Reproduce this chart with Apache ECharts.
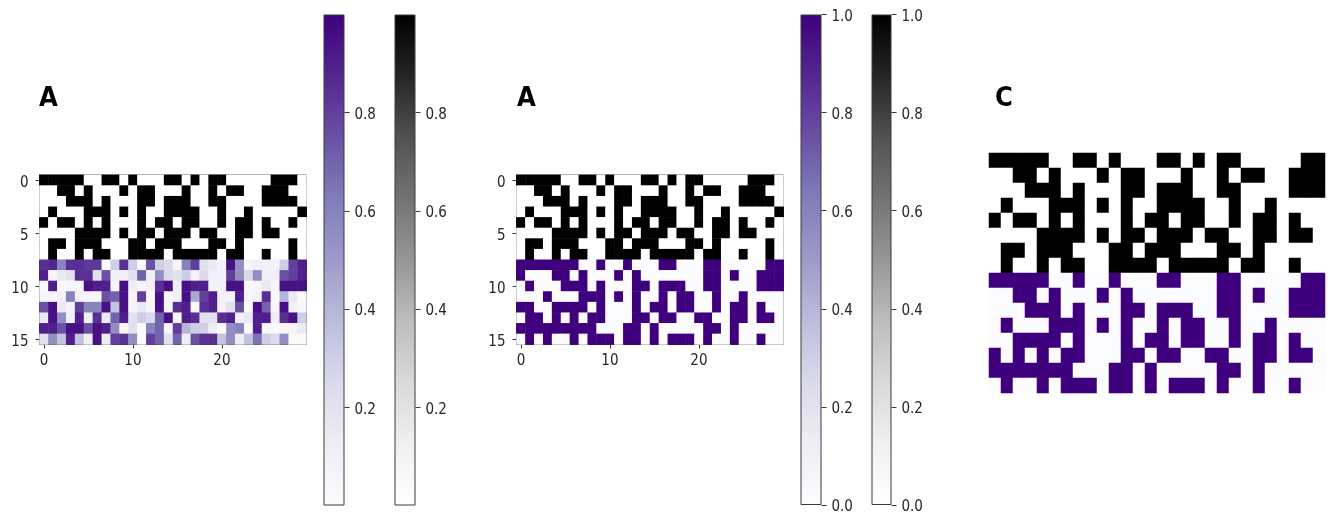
<!DOCTYPE html>
<html><head><meta charset="utf-8">
<script src="https://cdn.jsdelivr.net/npm/echarts@6/dist/echarts.min.js"></script>
<style>html,body{margin:0;padding:0;background:#fff}#c{width:1328px;height:515px}</style>
</head><body><div id="c"></div>
<script>
const rowLabels = ['0','1','2','3','4','5','6','7','8','9','10','11','12','13','14','15'];
const colLabels = ['0','1','2','3','4','5','6','7','8','9','10','11','12','13','14','15','16','17','18','19','20','21','22','23','24','25','26','27','28','29'];
const panelTitles = ['A','A','C'];
const ticksPartial = [0.2,0.4,0.6,0.8];
const ticksFull = [0,0.2,0.4,0.6,0.8,1];

// Black cells, rows 0-7 (column indices that are 1)
const blackOn = [
 [0,1,2,3,4,7,8,10,14,15,17,19,20,26,27,28],
 [2,3,5,9,11,12,16,19,21,22,25,26,27],
 [3,4,5,7,11,12,14,15,16,19,20,25,26,27,28],
 [1,5,6,7,9,11,14,15,16,17,20,23,29],
 [0,2,3,5,7,11,13,14,16,17,20,22,23,25,28],
 [4,5,6,7,9,11,12,14,15,16,18,19,22,23,25,26],
 [1,2,4,5,6,10,11,13,14,15,19,20,22,28],
 [1,4,6,7,10,11,12,13,15,16,17,18,19,21,22,25,28]
];
// Panel A, rows 8-15: continuous values
const purpleA = [
 [.85,.88,.6,.85,.85,.82,.82,.03,.3,.85,.3,.05,.75,.3,.25,.05,.6,.8,.2,.15,.08,.95,.55,.05,.1,.08,.07,.3,.8,.9],
 [.9,.05,.15,.2,.85,.85,.2,.75,.1,.1,.2,.7,.1,.55,.25,.2,.3,.08,.25,.1,.08,.8,.55,.25,.55,.1,.12,.75,.8,.9],
 [.03,.9,.02,.05,.05,.95,.9,.9,.05,.95,.12,.05,.1,.85,.95,.1,.95,.9,.9,.08,.1,.95,.95,.05,.05,.15,.05,.95,.95,.95],
 [.05,.05,.1,.6,.08,.05,.05,.75,.7,.95,.05,.8,.03,.95,.05,.1,.95,.45,.8,.9,.1,.08,.9,.05,.08,.85,.03,.4,.15,.03],
 [.75,.95,.15,.07,.8,.6,.6,.95,.35,.95,.05,.15,.05,.95,.05,.85,.9,.03,.85,.9,.08,.2,.75,.03,.95,.7,.05,.95,.1,.05],
 [.15,.95,.55,.1,.9,.1,.85,.15,.7,.9,.2,.3,.25,.7,.95,.05,.9,.85,.2,.2,.85,.9,.1,.15,.9,.9,.12,.85,.95,.3],
 [.9,.9,.75,.95,.95,.75,.95,.9,.55,.05,.2,.02,.6,.7,.05,.8,.4,.3,.3,.12,.03,.55,.6,.03,.9,.03,.03,.05,.05,.15],
 [.2,.55,.35,.9,.35,.12,.95,.12,.8,.85,.55,.02,.8,.7,.2,.7,.1,.75,.85,.85,.35,.55,.12,.35,.65,.3,.25,.55,.03,.02]
];
// Panel B, rows 8-15: thresholded cells
const purpleB = [
 [0,1,2,3,4,5,6,9,12,16,17,21,22,28,29],
 [0,4,5,7,11,13,21,22,24,27,28,29],
 [1,5,6,7,9,13,14,16,17,18,21,22,27,28,29],
 [3,7,8,9,11,13,16,18,19,22,25],
 [0,1,4,5,6,7,9,13,15,16,18,19,22,24,25,27],
 [1,2,4,6,8,9,13,14,16,17,20,21,24,25,27,28],
 [0,1,2,3,4,5,6,7,8,12,13,15,21,22,24],
 [1,3,6,8,9,10,12,13,15,17,18,19,21,24,27]
];
// Panel C, rows 8-15 (28 columns shown)
const purpleC = [
 [0,1,2,3,4,7,10,14,15,19,20,26,27],
 [2,3,5,9,11,19,20,22,25,26,27],
 [3,4,5,7,11,12,14,15,16,19,20,25,26,27],
 [1,5,6,7,9,11,14,16,17,20,23],
 [2,3,4,5,7,11,13,14,16,17,20,22,23,25],
 [0,2,4,6,7,11,12,14,15,18,19,22,23,25,26],
 [0,1,2,3,4,5,6,10,11,13,19,20,22],
 [1,4,6,7,8,10,11,13,15,16,17,19,22,25]
];

const PURPLES = ['#fcfbfd','#efedf5','#dadaeb','#bcbddc','#9e9ac8','#807dba','#6a51a3','#54278f','#3f007d'];
const GREYS = ['#ffffff','#f0f0f0','#d9d9d9','#bdbdbd','#969696','#737373','#525252','#252525','#000000'];
const INK = '#262626';
const TICK_FONT = 'DejaVu Sans Condensed';

function cellsFromOn(lists, firstRow, nCols){
  const out=[];
  lists.forEach((on,i)=>{ for(let c=0;c<nCols;c++) out.push([c,i+firstRow,on.includes(c)?1:0]); });
  return out;
}
function cellsFromGrid(rows, firstRow){
  const out=[];
  rows.forEach((r,i)=>r.forEach((v,c)=>out.push([c,i+firstRow,v])));
  return out;
}
const grids=[], xAxis=[], yAxis=[], series=[];
function heatPanel(box, showAxes, cols, dark, purple){
  const g=grids.length;
  grids.push(Object.assign({show:showAxes,borderColor:'#3a3a3a',borderWidth:1,backgroundColor:'transparent'},box));
  const tickX=i=>i%10===0, tickY=i=>i%5===0;
  xAxis.push({type:'category',gridIndex:g,data:cols,position:showAxes?'bottom':'top',
    axisLine:{show:true,lineStyle:{color:showAxes?'#3a3a3a':'#bbbbbb',width:1}},
    axisTick:{show:showAxes,alignWithLabel:true,interval:tickX,length:4,lineStyle:{color:'#3a3a3a'}},
    axisLabel:{show:showAxes,interval:tickX,color:INK,fontFamily:TICK_FONT,fontSize:15,margin:9},
    splitLine:{show:false},splitArea:{show:false}});
  yAxis.push({type:'category',gridIndex:g,data:rowLabels,inverse:true,show:showAxes,
    axisLine:{show:true,lineStyle:{color:'#3a3a3a',width:1}},
    axisTick:{show:showAxes,alignWithLabel:true,interval:tickY,length:4,lineStyle:{color:'#3a3a3a'}},
    axisLabel:{show:showAxes,interval:tickY,color:INK,fontFamily:TICK_FONT,fontSize:15,margin:11,verticalAlign:'top',lineHeight:5},
    splitLine:{show:false},splitArea:{show:false}});
  series.push({type:'heatmap',xAxisIndex:g,yAxisIndex:g,data:dark,itemStyle:{borderWidth:0},emphasis:{disabled:true},progressive:0,animation:false});
  series.push({type:'heatmap',xAxisIndex:g,yAxisIndex:g,data:purple,itemStyle:{borderWidth:0},emphasis:{disabled:true},progressive:0,animation:false});
}
function colourbar(box, ramp, ticks){
  const g=grids.length;
  grids.push(box);
  xAxis.push({type:'category',gridIndex:g,data:[''],axisLine:{show:false},axisTick:{show:false},axisLabel:{show:false}});
  yAxis.push({type:'value',gridIndex:g,min:0,max:1,position:'right',splitLine:{show:false},
    axisLine:{show:false},
    axisTick:{show:true,length:5,customValues:ticks,lineStyle:{color:'#3a3a3a'}},
    axisLabel:{show:true,customValues:ticks,margin:10,color:INK,fontFamily:TICK_FONT,fontSize:15,verticalAlign:'top',lineHeight:5,formatter:v=>Number(v).toFixed(1)}});
  const stops=ramp.map((c,i)=>({offset:1-i/(ramp.length-1),color:c}));
  series.push({type:'bar',xAxisIndex:g,yAxisIndex:g,data:[1],barWidth:'100%',silent:true,animation:false,
    itemStyle:{color:new echarts.graphic.LinearGradient(0,0,0,1,stops.reverse()),borderColor:'#3a3a3a',borderWidth:1}});
}

const allDark30=cellsFromOn(blackOn,0,30), allDark28=cellsFromOn(blackOn,0,28);
heatPanel({left:39.5,top:175,width:267,height:169.5},true,colLabels,allDark30,cellsFromGrid(purpleA,8));
heatPanel({left:516.5,top:175,width:267,height:169.5},true,colLabels,allDark30,cellsFromOn(purpleB,8,30));
heatPanel({left:989,top:153,width:336,height:240},false,colLabels.slice(0,28),allDark28,cellsFromOn(purpleC,8,28));
colourbar({left:323.5,top:14.5,width:21,height:491},PURPLES,ticksPartial);
colourbar({left:394.5,top:14.5,width:21,height:491},GREYS,ticksPartial);
colourbar({left:800.5,top:14.5,width:21,height:491},PURPLES,ticksFull);
colourbar({left:871.5,top:14.5,width:20,height:491},GREYS,ticksFull);

const titleStyle={fontFamily:'DejaVu Sans Condensed',fontWeight:'bold',fontSize:27,color:'#000'};
const chart=echarts.init(document.getElementById('c'),null,{renderer:'canvas'});
chart.setOption({
  animation:false,backgroundColor:'#fff',
  title:[
    {text:panelTitles[0],left:39,top:85,padding:0,textStyle:titleStyle},
    {text:panelTitles[1],left:517,top:85,padding:0,textStyle:titleStyle},
    {text:panelTitles[2],left:995,top:85,padding:0,textStyle:titleStyle}
  ],
  grid:grids,xAxis,yAxis,series,
  visualMap:[
    {show:false,type:'continuous',min:0,max:1,seriesIndex:[0,2,4],inRange:{color:GREYS}},
    {show:false,type:'continuous',min:0,max:1,seriesIndex:[1,3,5],inRange:{color:PURPLES}}
  ]
});
</script></body></html>
